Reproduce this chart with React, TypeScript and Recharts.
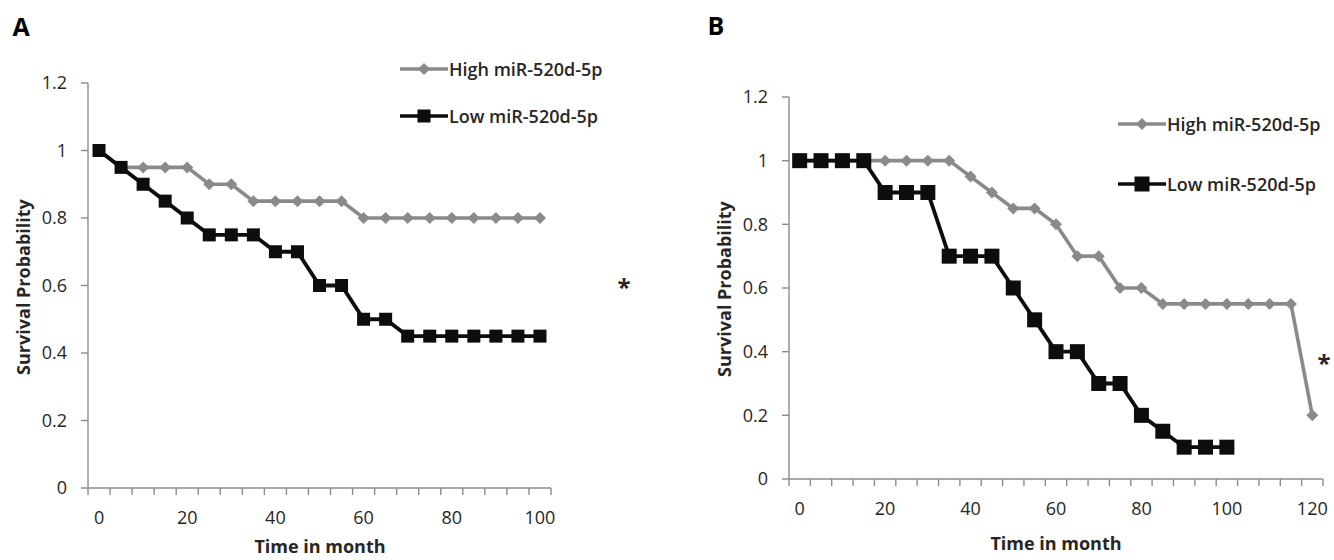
import React from "react";
import { LineChart, Line, XAxis, YAxis, Legend } from "recharts";

// months on the category axis
const monthsA = [0, 5, 10, 15, 20, 25, 30, 35, 40, 45, 50, 55, 60, 65, 70, 75, 80, 85, 90, 95, 100];
const highA = [1, 0.95, 0.95, 0.95, 0.95, 0.9, 0.9, 0.85, 0.85, 0.85, 0.85, 0.85, 0.8, 0.8, 0.8, 0.8, 0.8, 0.8, 0.8, 0.8, 0.8];
const lowA = [1, 0.95, 0.9, 0.85, 0.8, 0.75, 0.75, 0.75, 0.7, 0.7, 0.6, 0.6, 0.5, 0.5, 0.45, 0.45, 0.45, 0.45, 0.45, 0.45, 0.45];

const monthsB = [0, 5, 10, 15, 20, 25, 30, 35, 40, 45, 50, 55, 60, 65, 70, 75, 80, 85, 90, 95, 100, 105, 110, 115, 120];
const highB = [1, 1, 1, 1, 1, 1, 1, 1, 0.95, 0.9, 0.85, 0.85, 0.8, 0.7, 0.7, 0.6, 0.6, 0.55, 0.55, 0.55, 0.55, 0.55, 0.55, 0.55, 0.2];
const lowB = [1, 1, 1, 1, 0.9, 0.9, 0.9, 0.7, 0.7, 0.7, 0.6, 0.5, 0.4, 0.4, 0.3, 0.3, 0.2, 0.15, 0.1, 0.1, 0.1, null, null, null, null];

const yTicks = [0, 0.2, 0.4, 0.6, 0.8, 1, 1.2];
const xLabels = [0, 20, 40, 60, 80, 100, 120];
const seriesNames = ["High miR-520d-5p", "Low miR-520d-5p"];

const FONT = "'Open Sans', 'DejaVu Sans', sans-serif";
const AXIS = "#8c8c8c";
const GRAY = "#8a8a8a";
const BLACK = "#0d0d0d";
const TEXT = "#262626";

const toRows = (t: number[], hi: (number | null)[], lo: (number | null)[]) =>
  t.map((m, i) => ({ t: m, high: hi[i], low: lo[i] }));

const diamondDot = (r: number) => (p: any) => {
  if (p.cx == null || p.cy == null || p.value == null) return <g key={`d${p.index}`} />;
  const { cx, cy } = p;
  return (
    <polygon
      key={`d${p.index}`}
      points={`${cx},${cy - r} ${cx + r},${cy} ${cx},${cy + r} ${cx - r},${cy}`}
      fill={GRAY}
    />
  );
};

const squareDot = (s: number) => (p: any) => {
  if (p.cx == null || p.cy == null || p.value == null) return <g key={`s${p.index}`} />;
  return <rect key={`s${p.index}`} x={p.cx - s / 2} y={p.cy - s / 2} width={s} height={s} fill={BLACK} />;
};

// excel-like category axis: tick marks between categories, labels every 20 months
const makeXTick = (band: number, lastIndex: number) => (props: any) => {
  const { x, y, payload, index } = props;
  const left = x - band / 2;
  return (
    <g>
      <line x1={left} x2={left} y1={y} y2={y + 7} stroke={AXIS} strokeWidth={1.4} />
      {index === lastIndex && (
        <line x1={left + band} x2={left + band} y1={y} y2={y + 7} stroke={AXIS} strokeWidth={1.4} />
      )}
      {xLabels.includes(payload.value) && (
        <text x={x} y={y + 29} textAnchor="middle" dominantBaseline="central" fill={TEXT} fontSize={18} fontFamily={FONT}>
          {payload.value}
        </text>
      )}
    </g>
  );
};

function LegendBox({ gap, sq }: { gap: number; sq: number }) {
  return (
    <div style={{ position: "relative", width: 250, height: gap + 30 }}>
      {seriesNames.map((name, i) => (
        <div
          key={name}
          style={{ position: "absolute", left: 0, top: i * gap, height: 30, display: "flex", alignItems: "center", whiteSpace: "nowrap" }}
        >
          <svg width={48} height={30}>
            <line x1={0} x2={48} y1={15} y2={15} stroke={i === 0 ? GRAY : BLACK} strokeWidth={3.6} />
            {i === 0 ? (
              <polygon points="24,9 30,15 24,21 18,15" fill={GRAY} />
            ) : (
              <rect x={24 - sq / 2} y={15 - sq / 2} width={sq} height={sq} fill={BLACK} />
            )}
          </svg>
          <span style={{ marginLeft: 1, fontFamily: FONT, fontSize: 18, fontWeight: 600, color: TEXT }}>{name}</span>
        </div>
      ))}
    </div>
  );
}

type PanelProps = {
  rows: any[];
  left: number;
  width: number;
  margin: { top: number; right: number; bottom: number; left: number };
  xHeight: number;
  plotW: number;
  sq: number;
  legend: { left: number; top: number; gap: number };
};

function Panel({ rows, left, width, margin, xHeight, plotW, sq, legend }: PanelProps) {
  const band = plotW / rows.length;
  return (
    <div style={{ position: "absolute", left, top: 0 }}>
      <LineChart width={width} height={560} data={rows} margin={margin}>
        <XAxis
          dataKey="t"
          type="category"
          scale="point"
          interval={0}
          height={xHeight}
          padding={{ left: band / 2, right: band / 2 }}
          tickSize={0}
          tickMargin={0}
          tickLine={false}
          axisLine={{ stroke: AXIS, strokeWidth: 1.4 }}
          tick={makeXTick(band, rows.length - 1)}
        />
        <YAxis
          type="number"
          domain={[0, 1.2]}
          ticks={yTicks}
          interval={0}
          width={60}
          tickSize={7}
          tickMargin={14}
          axisLine={{ stroke: AXIS, strokeWidth: 1.4 }}
          tickLine={{ stroke: AXIS, strokeWidth: 1.4 }}
          tick={{ fill: TEXT, fontSize: 18, fontFamily: FONT }}
        />
        <Legend
          layout="vertical"
          align="center"
          verticalAlign="middle"
          wrapperStyle={{ position: "absolute", left: legend.left, top: legend.top, width: 250 }}
          content={() => <LegendBox gap={legend.gap} sq={sq} />}
        />
        <Line
          type="linear"
          dataKey="high"
          name={seriesNames[0]}
          stroke={GRAY}
          strokeWidth={3.6}
          dot={diamondDot(6)}
          activeDot={false}
          isAnimationActive={false}
        />
        <Line
          type="linear"
          dataKey="low"
          name={seriesNames[1]}
          stroke={BLACK}
          strokeWidth={3.8}
          dot={squareDot(sq)}
          activeDot={false}
          isAnimationActive={false}
        />
      </LineChart>
    </div>
  );
}

const abs = (x: number, y: number, extra: React.CSSProperties = {}): React.CSSProperties => ({
  position: "absolute",
  left: x,
  top: y,
  transform: "translate(-50%, -50%)",
  whiteSpace: "nowrap",
  fontFamily: FONT,
  color: TEXT,
  ...extra,
});

export default function App() {
  return (
    <div style={{ position: "absolute", left: 0, top: 0, width: 1334, height: 560, background: "#fff", overflow: "hidden" }}>
      <Panel
        rows={toRows(monthsA, highA, lowA)}
        left={0}
        width={660}
        margin={{ top: 83, right: 109, bottom: 0, left: 28 }}
        xHeight={72}
        plotW={463}
        sq={13}
        legend={{ left: 400, top: 54, gap: 47 }}
      />
      <Panel
        rows={toRows(monthsB, highB, lowB)}
        left={660}
        width={674}
        margin={{ top: 97, right: 11, bottom: 0, left: 69 }}
        xHeight={81}
        plotW={534}
        sq={15}
        legend={{ left: 458, top: 109, gap: 60 }}
      />

      <div style={abs(21, 26, { fontSize: 25, fontWeight: 700, color: "#000" })}>A</div>
      <div style={abs(716, 25, { fontSize: 25, fontWeight: 700, color: "#000" })}>B</div>

      <div style={abs(23, 287, { fontSize: 18, fontWeight: 700, transform: "translate(-50%, -50%) rotate(-90deg)" })}>
        Survival Probability
      </div>
      <div style={abs(724, 289, { fontSize: 18, fontWeight: 700, transform: "translate(-50%, -50%) rotate(-90deg)" })}>
        Survival Probability
      </div>
      <div style={abs(320, 546, { fontSize: 18, fontWeight: 700 })}>Time in month</div>
      <div style={abs(1056, 543, { fontSize: 18, fontWeight: 700 })}>Time in month</div>

      <div style={abs(624, 286, { fontSize: 24, fontWeight: 700 })}>*</div>
      <div style={abs(1324, 362, { fontSize: 24, fontWeight: 700 })}>*</div>
    </div>
  );
}
